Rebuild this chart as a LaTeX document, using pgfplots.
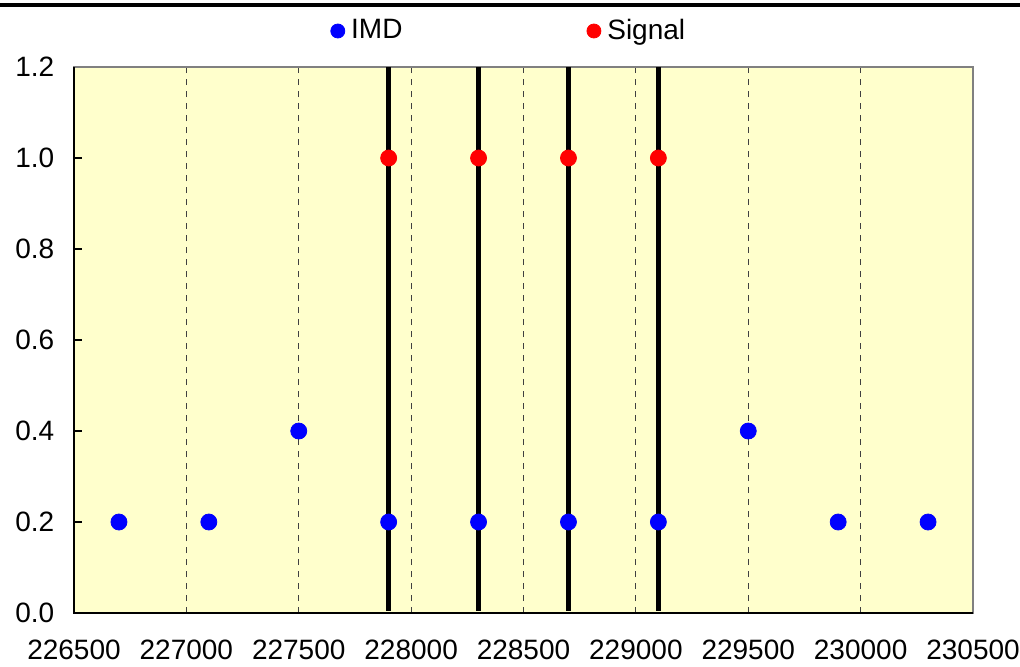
\documentclass[border=0pt]{standalone}
\usepackage{fontspec}
\setmainfont{Liberation Sans}
\usepackage{pgfplots}
\pgfplotsset{compat=1.18}
\definecolor{bgyellow}{RGB}{255,255,204}
\definecolor{frame}{RGB}{128,128,128}
\begin{document}
\fontsize{14}{16}\selectfont
\begin{tikzpicture}
\path[use as bounding box] (-37pt,-26.5pt) rectangle (473pt,306.5pt);
\begin{axis}[
  at={(0,0)}, anchor=south west,
  scale only axis,
  width=449.5pt, height=273pt,
  xmin=226500, xmax=230500,
  ymin=0, ymax=1.2,
  xtick={226500,227000,...,230500},
  ytick={0,0.2,...,1.2},
  scaled ticks=false,
  /pgf/number format/assume math mode=true,
  xticklabel style={/pgf/number format/.cd, fixed, precision=0, set thousands separator={}, /tikz/.cd, yshift=-8.5pt},
  yticklabel style={/pgf/number format/.cd, fixed, fixed zerofill, precision=1, /tikz/.cd, xshift=-5pt},
  tick label style={font=\fontsize{14}{16}\selectfont},
  ticklabel style={text=black},
  xmajorgrids,
  major grid style={dashed, draw=black!75, line width=0.5pt},
  x tick style={draw=none},
  ytick pos=left,
  y tick style={draw=black, line width=0.6pt},
  tick align=inside,
  major tick length=4pt,
  axis line style={draw=frame, line width=1pt},
  axis background/.style={fill=bgyellow},
  legend columns=2,
  legend style={at={(0,1)}, anchor=west, xshift=128pt, yshift=18pt, draw=none, fill=none,
    inner sep=0pt,
    font=\fontsize{14}{16}\selectfont,
    /tikz/every odd column/.append style={column sep=1pt},
    /tikz/every even column/.append style={column sep=90pt}},
  legend image code/.code={\fill[#1] (0,0) circle (3.5pt);},
  clip=false,
]
\addplot[only marks, mark=*, mark size=4pt, draw=blue, fill=blue] coordinates {
  (226700,0.2) (227100,0.2) (227500,0.4) (227900,0.2) (228300,0.2)
  (228700,0.2) (229100,0.2) (229500,0.4) (229900,0.2) (230300,0.2)
};
\addlegendentry{IMD}
\addplot[only marks, mark=*, mark size=4pt, draw=red, fill=red] coordinates {
  (227900,1.0) (228300,1.0) (228700,1.0) (229100,1.0)
};
\addlegendentry{Signal}
\addplot[black, line width=2.6pt, forget plot, unbounded coords=jump] coordinates {
  (227900,0.005) (227900,1.2)
  (227900,nan)
  (228300,0.005) (228300,1.2)
  (228300,nan)
  (228700,0.005) (228700,1.2)
  (228700,nan)
  (229100,0.005) (229100,1.2)
};
\draw[black, line width=1pt] (rel axis cs:0,1) -- (rel axis cs:0,0) -- (rel axis cs:1,0);
\end{axis}
\draw[black, line width=1.6pt] (-37pt,304pt) -- (473pt,304pt);
\end{tikzpicture}
\end{document}
